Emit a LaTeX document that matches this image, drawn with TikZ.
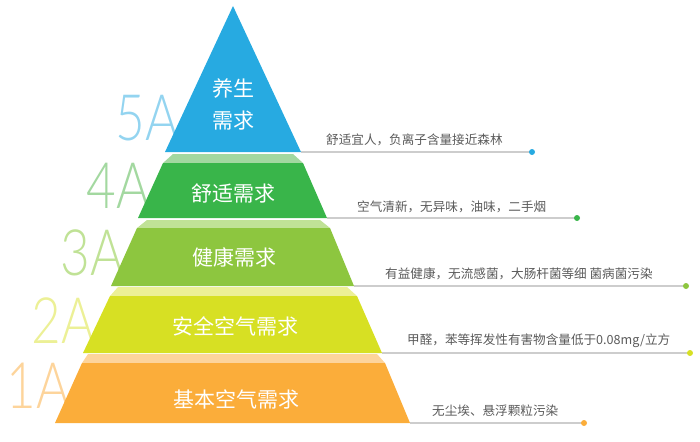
\documentclass[tikz,border=0pt]{standalone}
\usepackage{fontspec}
\setmainfont{Liberation Sans}
\newfontfamily\cjk{Noto Sans CJK SC}
\newfontfamily\thin{Lato Light}
\definecolor{blueA}{RGB}{39,170,225}
\definecolor{greenA}{RGB}{57,181,74}
\definecolor{greenAl}{RGB}{163,216,160}
\definecolor{limeA}{RGB}{141,198,63}
\definecolor{limeAl}{RGB}{192,226,150}
\definecolor{yellowA}{RGB}{215,224,35}
\definecolor{yellowAl}{RGB}{236,240,150}
\definecolor{orangeA}{RGB}{251,173,58}
\definecolor{orangeAl}{RGB}{253,212,155}
\definecolor{lineA}{RGB}{205,205,205}
\definecolor{noteA}{RGB}{90,90,90}
\tikzset{
  level/.style={font=\cjk\fontsize{21}{32}\selectfont,text=white,inner sep=0pt,align=center},
  grade/.style={font=\thin\fontsize{64}{64}\selectfont,inner sep=0pt,xscale=0.8},
  note/.style={font=\cjk\fontsize{12.6}{14}\selectfont,text=noteA,inner sep=0pt,anchor=west},
  leader/.style={draw=lineA,line width=1.4pt}
}
\begin{document}
\begin{tikzpicture}[x=1pt,y=-1pt]
			\useasboundingbox (0,0) rectangle (700,441);
			% grade labels behind the pyramid
			\node[grade,text=blueA!50] (g5) at (147.5,118.5) {5A};
			\node[grade,text=greenAl] (g4) at (118.5,185.5) {4A};
			\node[grade,text=limeAl] (g3) at (92,252.5) {3A};
			\node[grade,text=yellowAl] (g2) at (63.5,320.5) {2A};
			\node[grade,text=orangeAl] (g1) at (38.5,385.5) {1A};
			% right corners and end points of the leaders
			\coordinate (R5) at (301,152);
			\coordinate (R4) at (327,218);
			\coordinate (R3) at (354,286);
			\coordinate (R2) at (382,353);
			\coordinate (R1) at (410,423);
			\coordinate (E5) at (532,152);
			\coordinate (E4) at (577,218);
			\coordinate (E3) at (686,286);
			\coordinate (E2) at (690,353);
			\coordinate (E1) at (584,423);
			\draw[leader] (R5) -- (E5);
			\draw[leader] (R4) -- (E4);
			\draw[leader] (R3) -- (E3);
			\draw[leader] (R2) -- (E2);
			\draw[leader] (R1) -- (E1);
			\fill[blueA] (E5) circle (3pt);
			\fill[greenA] (E4) circle (3pt);
			\fill[limeA] (E3) circle (3pt);
			\fill[yellowA] (E2) circle (3pt);
			\fill[orangeA] (E1) circle (3pt);
			% layers
			\fill[blueA] (233,6) -- (R5) -- (165,152) -- cycle;
			\fill[greenAl] (173,154) -- (293,154) -- (303,163) -- (163,163) -- cycle;
			\fill[greenA] (163,163) -- (303,163) -- (R4) -- (138,218) -- cycle;
			\fill[limeAl] (147,220) -- (320,220) -- (330,228) -- (137,228) -- cycle;
			\fill[limeA] (137,228) -- (330,228) -- (R3) -- (111,286) -- cycle;
			\fill[yellowAl] (118,287) -- (347,287) -- (357,296) -- (110,296) -- cycle;
			\fill[yellowA] (110,296) -- (357,296) -- (R2) -- (83,353) -- cycle;
			\fill[orangeAl] (88,354) -- (377,354) -- (385,363) -- (82,363) -- cycle;
			\fill[orangeA] (82,363) -- (385,363) -- (R1) -- (55,423) -- cycle;
			\node[level] (L5) at (233,104) {养生\\需求};
			\node[level] (L4) at (233,193) {舒适需求};
			\node[level] (L3) at (234,257) {健康需求};
			\node[level] (L2) at (235,326) {安全空气需求};
			\node[level] (L1) at (236,399) {基本空气需求};
			% notes
			\node[note] (n5) at (326,140) {舒适宜人，负离子含量接近森林};
			\node[note] (n4) at (357,207) {空气清新，无异味，油味，二手烟};
			\node[note] (n3) at (385,274) {有益健康，无流感菌，大肠杆菌等细 菌病菌污染};
			\node[note] (n2) at (407,341) {甲醛，苯等挥发性有害物含量低于0.08mg/立方};
			\node[note] (n1) at (432,411) {无尘埃、悬浮颗粒污染};
\end{tikzpicture}
\end{document}
